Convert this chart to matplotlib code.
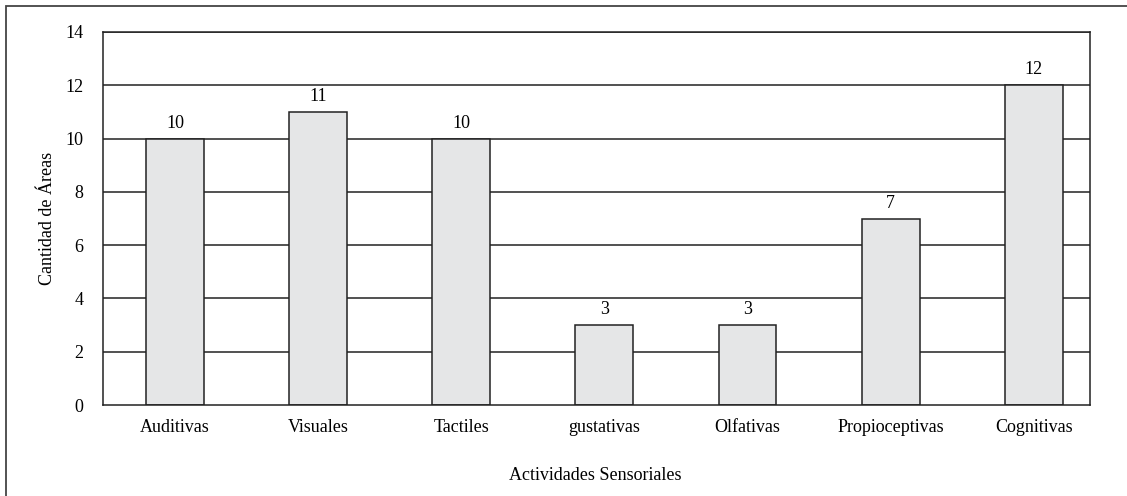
import matplotlib
matplotlib.use("Agg")
import matplotlib.pyplot as plt
from matplotlib.patches import Rectangle

categories = ["Auditivas", "Visuales", "Tactiles", "gustativas", "Olfativas",
              "Propioceptivas", "Cognitivas"]
values = [10, 11, 10, 3, 3, 7, 12]
yticks = [0, 2, 4, 6, 8, 10, 12, 14]

plt.rcParams["font.family"] = ["Liberation Serif", "DejaVu Serif"]

fig = plt.figure(figsize=(11.27, 4.96), dpi=100)
W, H = 1127, 496
ax = fig.add_axes([103 / W, 1 - 405 / H, (1090 - 103) / W, (405 - 32) / H])

# outer frame around the whole figure
fig.patches.append(Rectangle((6 / W, -0.05), 1.2, 1 - 6 / H + 0.05,
                             transform=fig.transFigure, fill=False,
                             edgecolor="#444444", linewidth=1.3, zorder=0))

for y in yticks[1:]:
    ax.axhline(y, color="#222222", linewidth=1.1, zorder=1)

x = list(range(len(categories)))
bars = ax.bar(x, values, width=0.405, color="#e5e6e7", edgecolor="#222222",
              linewidth=1.1, zorder=2)
for xi, v in zip(x, values):
    ax.annotate(str(v), (xi, v), xytext=(0, 5), textcoords="offset points",
                ha="center", va="bottom", fontsize=13)

ax.set_xlim(-0.503, 6.393)
ax.set_ylim(0, 14)
ax.set_yticks(yticks)
ax.set_xticks(x)
ax.set_xticklabels(categories)
ax.tick_params(length=0, labelsize=13, pad=10)
ax.tick_params(axis="y", pad=14)
for s in ax.spines.values():
    s.set_color("#222222")
    s.set_linewidth(1.1)

ax.set_ylabel("Cantidad de Áreas", fontsize=13)
ax.yaxis.set_label_coords((56 - 103) / 987, 0.5)
fig.text(595 / W, 1 - 476 / H, "Actividades Sensoriales", ha="center",
         va="center", fontsize=13)

fig.savefig("out.png", dpi=100)
